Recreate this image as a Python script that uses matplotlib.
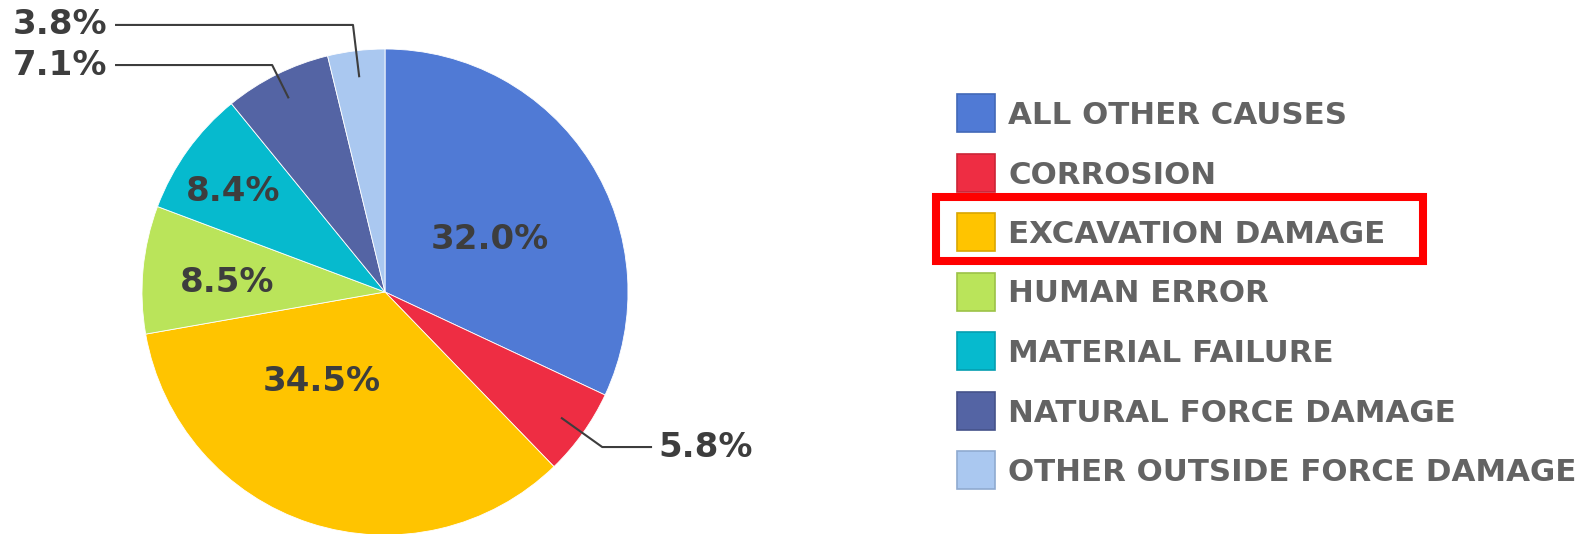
import numpy as np
import matplotlib
matplotlib.use("Agg")
import matplotlib.pyplot as plt
from matplotlib.patches import Rectangle

categories = ["ALL OTHER CAUSES", "CORROSION", "EXCAVATION DAMAGE", "HUMAN ERROR",
              "MATERIAL FAILURE", "NATURAL FORCE DAMAGE", "OTHER OUTSIDE FORCE DAMAGE"]
values = [32.0, 5.8, 34.5, 8.5, 8.4, 7.1, 3.8]
labels = ["32.0%", "5.8%", "34.5%", "8.5%", "8.4%", "7.1%", "3.8%"]
colors = ["#507AD5", "#EE2D43", "#FFC400", "#BAE45A", "#06BACE", "#5464A4", "#AAC8F0"]
edge_colors = ["#4268B8", "#CC2436", "#D9A600", "#9CC247", "#059EB0", "#45538A", "#8FAAD0"]
highlight = "EXCAVATION DAMAGE"

# label placement (style): inside labels -> (x, y) in radius units; outside -> (end x, y, side)
inside_pos = {0: (0.432, 0.214), 2: (-0.259, -0.370), 3: (-0.650, 0.041), 4: (-0.626, 0.412)}
outside_pos = {1: (1.099, -0.638, "left"), 5: (-1.111, 0.934, "right"), 6: (-1.111, 1.099, "right")}

W, H = 1591, 534
fig = plt.figure(figsize=(W / 100, H / 100), dpi=100)
fig.patch.set_facecolor("white")

cx, cy, R = 385, 292, 243
ax = fig.add_axes([(cx - R) / W, (H - cy - R) / H, 2 * R / W, 2 * R / H])
wedges, _ = ax.pie(values, colors=colors, startangle=90, counterclock=False,
                   wedgeprops=dict(edgecolor="white", linewidth=0.6), radius=1.0)
for w in wedges:
    w.set_clip_on(False)
ax.set_xlim(-1, 1)
ax.set_ylim(-1, 1)
ax.set_aspect("equal")
ax.axis("off")

lab_font = dict(family="DejaVu Sans", fontweight="bold", fontsize=24.5, color="#3d3d3d")
for i, w in enumerate(wedges):
    mid = np.deg2rad((w.theta1 + w.theta2) / 2)
    if i in inside_pos:
        x, y = inside_pos[i]
        ax.text(x, y, labels[i], ha="center", va="center", **lab_font)
    else:
        ex, ey, ha = outside_pos[i]
        sx, sy = 0.89 * np.cos(mid), 0.89 * np.sin(mid)
        t = (ey - sy) / np.sin(mid)
        kx, ky = sx + t * np.cos(mid), ey
        ax.plot([sx, kx, ex], [sy, ky, ey], color="#3d3d3d", lw=1.5, clip_on=False,
                solid_capstyle="butt")
        tx = ex + (0.024 if ha == "left" else -0.033)
        ax.text(tx, ey, labels[i], ha=ha, va="center", clip_on=False, **lab_font)

# legend overlay in pixel coordinates
ov = fig.add_axes([0, 0, 1, 1], facecolor="none")
ov.set_xlim(0, W)
ov.set_ylim(H, 0)
ov.axis("off")
row0, step = 113, 59.5
for i, cat in enumerate(categories):
    yc = row0 + i * step
    ov.add_patch(Rectangle((957, yc - 19), 38, 38, facecolor=colors[i],
                           edgecolor=edge_colors[i], lw=1.2))
    ov.text(1008, yc + 11, cat, ha="left", va="baseline",
            family="DejaVu Sans", fontweight="bold",
            fontsize=22.2, color="#636363")
    if cat == highlight:
        ov.add_patch(Rectangle((936, yc - 35), 487, 64, facecolor="none",
                               edgecolor="#FF0000", lw=5.8))

fig.savefig("out.png", dpi=100, facecolor="white")
